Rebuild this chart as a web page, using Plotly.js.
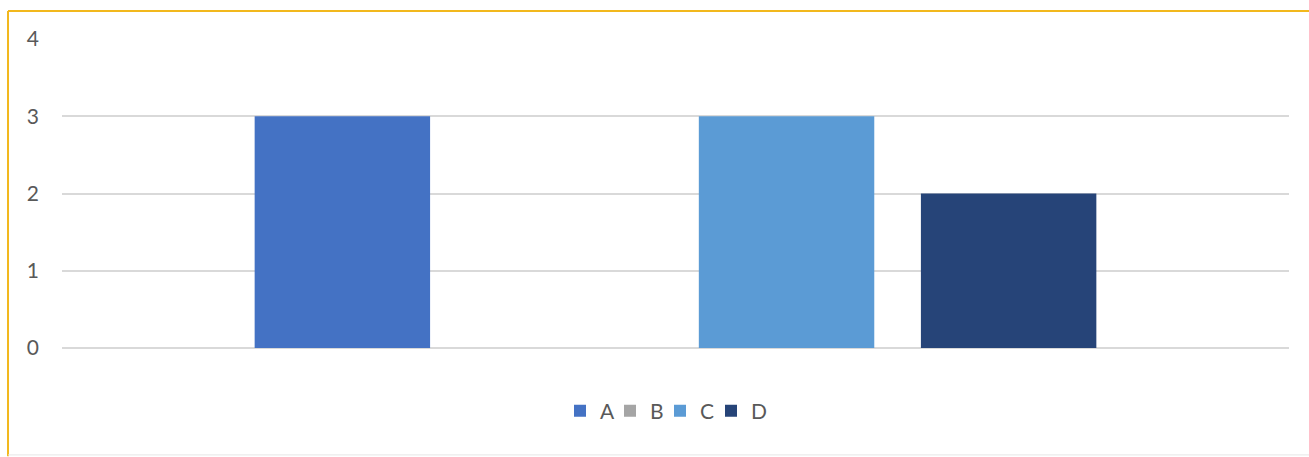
<!DOCTYPE html>
<html>
<head>
<meta charset="utf-8">
<script src="https://cdn.plot.ly/plotly-3.0.1.min.js"></script>
<style>html,body{margin:0;padding:0;background:#fff;}#chart{width:1309px;height:457px;}</style>
</head>
<body>
<div id="chart"></div>
<script>
const category = [""];
const seriesNames = ["A", "B", "C", "D"];
const seriesValues = [[3], [0], [3], [2]];
const seriesColors = ["#4472C4", "#A5A5A5", "#5B9BD5", "#264478"];
const yTicks = [0, 1, 2, 3, 4];

// one legend box per series, placed side by side (paper x of each box)
const legendX = [560, 610, 660, 711].map(px => (px - 62) / 1227);

const traces = seriesNames.map((n, i) => ({
  type: "bar",
  name: n,
  x: category,
  y: seriesValues[i],
  marker: {color: seriesColors[i]},
  legend: i === 0 ? "legend" : "legend" + (i + 1),
  hoverinfo: "skip"
}));

const layout = {
  width: 1309, height: 457,
  margin: {l: 62, r: 20, t: 39, b: 109},
  paper_bgcolor: "#ffffff",
  plot_bgcolor: "#ffffff",
  font: {family: "Lato, 'Noto Sans', sans-serif", color: "#595959", size: 16},
  barmode: "group",
  bargap: 0.276,
  bargroupgap: 0.21,
  showlegend: true,
  xaxis: {showticklabels: false, showgrid: false, zeroline: false, showline: false, fixedrange: true},
  yaxis: {
    range: [0, 4], tickvals: yTicks, ticktext: yTicks.map(String),
    showgrid: true, gridcolor: "#d9d9d9", gridwidth: 2,
    zeroline: true, zerolinecolor: "#d9d9d9", zerolinewidth: 2,
    showline: false, ticks: "", ticklabelstandoff: 22, fixedrange: true,
    tickfont: {size: 21, color: "#595959"}
  },
  shapes: [
    {type: "line", xref: "paper", yref: "paper", x0: -0.044, x1: 1.02, y0: 1.0906, y1: 1.0906, line: {color: "#F2B81D", width: 2}},
    {type: "line", xref: "paper", yref: "paper", x0: -0.044, x1: -0.044, y0: 1.0906, y1: -0.35, line: {color: "#F2B81D", width: 2}},
    {type: "line", xref: "paper", yref: "paper", x0: -0.044, x1: 1.02, y0: -0.346, y1: -0.346, line: {color: "#e6e6e6", width: 1}}
  ]
};

seriesNames.forEach((n, i) => {
  const key = i === 0 ? "legend" : "legend" + (i + 1);
  layout[key] = {
    orientation: "h", x: legendX[i], xanchor: "left", y: -0.204, yanchor: "middle",
    font: {size: 21, color: "#595959"}, itemclick: false, bgcolor: "rgba(0,0,0,0)"
  };
});

Plotly.newPlot("chart", traces, layout, {displayModeBar: false, staticPlot: true});
</script>
</body>
</html>
